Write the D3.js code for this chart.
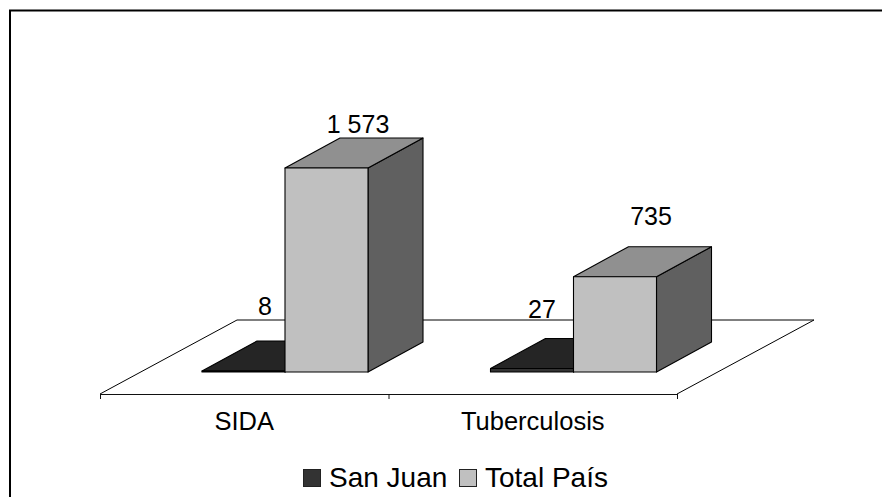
<!DOCTYPE html>
<html><head><meta charset="utf-8">
<style>html,body{margin:0;padding:0;background:#fff;overflow:hidden}svg{display:block}text{font-family:"Liberation Sans",Arial,sans-serif;fill:#000}</style>
<script src="https://cdnjs.cloudflare.com/ajax/libs/d3/7.8.5/d3.min.js"></script>
</head><body><svg id="c" width="882" height="497"></svg>
<script>
const categories = ["SIDA", "Tuberculosis"];
const seriesNames = ["San Juan", "Total País"];
const sanJuan = [8, 27];
const totalPais = [1573, 735];
const valueLabels = [["8", "27"], ["1 573", "735"]];

const svg = d3.select("#c");
const W = 882, H = 497;
const baseY = 372, floorFrontY = 394, floorBackY = 320;
const floorDx = 137, barDx = 55, barDy = 30;
const x0 = d3.scaleBand().domain(categories).range([100, 677]);
const x1 = d3.scaleBand().domain(seriesNames).range([102, 268]);
const y = d3.scaleLinear().domain([0, 1573]).range([baseY, 168]);
const fills = {
  "San Juan": {front: "#333333", top: "#252525", side: "#191919"},
  "Total País": {front: "#c0c0c0", top: "#909090", side: "#606060"}
};
const values = {"San Juan": sanJuan, "Total País": totalPais};
const line = d3.line();

// frame: top and left only, cut off by the picture
svg.append("path").attr("d", line([[10, H], [10, 10.5], [W, 10.5]]))
  .attr("fill", "none").attr("stroke", "#000").attr("stroke-width", 2);

// floor
svg.append("path")
  .attr("d", line([[x0.range()[0], floorFrontY], [x0.range()[0] + floorDx, floorBackY],
                   [x0.range()[1] + floorDx, floorBackY], [x0.range()[1], floorFrontY]]))
  .attr("fill", "#fff").attr("stroke", "#000").attr("stroke-width", 1);

// category axis
const axisG = svg.append("g");
axisG.append("line").attr("x1", x0.range()[0]).attr("x2", x0.range()[1])
  .attr("y1", floorFrontY + 0.5).attr("y2", floorFrontY + 0.5).attr("stroke", "#111").attr("stroke-width", 1.2);
const tickXs = [...categories.map(c => x0(c)), x0.range()[1]];
axisG.selectAll("line.t").data(tickXs).join("line").attr("class", "t")
  .attr("x1", d => d + 0.5).attr("x2", d => d + 0.5)
  .attr("y1", floorFrontY).attr("y2", floorFrontY + 5).attr("stroke", "#111").attr("stroke-width", 1);
axisG.selectAll("text").data(categories).join("text")
  .attr("x", d => x0(d) + x0.bandwidth() / 2).attr("y", 430)
  .attr("text-anchor", "middle").attr("font-size", 25.5).text(d => d);

// bars
categories.forEach((c, i) => {
  seriesNames.forEach(s => {
    const left = x0(c) + x1(s), right = left + x1.bandwidth();
    const t = y(values[s][i]), f = fills[s];
    const g = svg.append("g").attr("stroke", "#000").attr("stroke-width", 1.1).attr("stroke-linejoin", "round");
    g.append("path").attr("fill", f.side)
      .attr("d", line([[right, baseY], [right + barDx, baseY - barDy], [right + barDx, t - barDy], [right, t]]) + "Z");
    g.append("path").attr("fill", f.top)
      .attr("d", line([[left, t], [left + barDx, t - barDy], [right + barDx, t - barDy], [right, t]]) + "Z");
    g.append("rect").attr("x", left).attr("y", t).attr("width", right - left).attr("height", baseY - t).attr("fill", f.front);
  });
});

// value labels
const labelCx = [[265, 542], [358, 651]];
const labelBase = [[315, 318], [133, 225]];
seriesNames.forEach((s, si) => categories.forEach((c, ci) => {
  svg.append("text").attr("x", labelCx[si][ci]).attr("y", labelBase[si][ci])
    .attr("text-anchor", "middle").attr("font-size", 25).text(valueLabels[si][ci]);
}));

// legend
const legendX = [303, 459], legendTextX = [329, 485];
seriesNames.forEach((s, i) => {
  svg.append("rect").attr("x", legendX[i] + 0.5).attr("y", 469.5).attr("width", 17).attr("height", 17)
    .attr("fill", fills[s].front).attr("stroke", "#222").attr("stroke-width", 1);
  svg.append("text").attr("x", legendTextX[i]).attr("y", 487).attr("font-size", 28).text(s);
});
</script></body></html>
